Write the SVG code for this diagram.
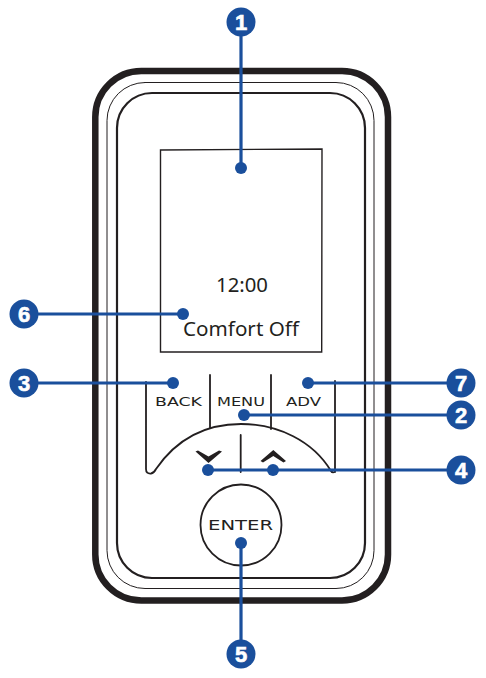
<svg xmlns="http://www.w3.org/2000/svg" width="486" height="678" viewBox="0 0 486 678">
<style>
.k{fill:none;stroke:#231f20;stroke-linecap:round}
.b{fill:#fff;stroke:#231f20}
.l{stroke:#1a4f9c;stroke-width:3.2;fill:none}
.d{fill:#1a4f9c}
.n{font-family:"Liberation Sans",Arial,sans-serif;font-weight:700;font-size:22px;fill:#fff;stroke:#fff;stroke-width:.6;text-anchor:middle}
.t{font-family:"Noto Sans","Open Sans",sans-serif;fill:#231f20;text-anchor:middle}
.w{font-family:"DejaVu Sans",sans-serif;fill:#231f20;text-anchor:middle;font-size:13px}
</style>
<rect width="486" height="678" fill="#fff"/>
<g id="device">
<rect x="95.3" y="71" width="292.7" height="529.5" rx="46" class="k" stroke-width="6.5"/>
<rect x="107" y="82.5" width="267" height="506" rx="38" class="k" stroke-width="1"/>
<rect x="117" y="93" width="248" height="485" rx="35" class="k" stroke-width="2.2"/>
</g>
<g id="screen">
<path d="M160.500 150 L322 149 L321.700 352 L160.500 352 Z" class="k" stroke-width="1.400"/>
<text x="242" y="292" class="t" font-size="20.500" textLength="52" lengthAdjust="spacingAndGlyphs">12:00</text>
<text x="241" y="336" class="t" font-size="20.500" textLength="116" lengthAdjust="spacingAndGlyphs">Comfort Off</text>
</g>
<g id="keypad">
<path d="M146 382 V469 Q146 474 151 473.500 Q154 473 156 469 C176 440 205 424 241 424 C278 424 313 441 331 471 Q332 473 335 472 V381" class="k" stroke-width="1.800"/>
<path d="M210 375 V428 M271 375 V429 M240.700 435 V472" class="k" stroke-width="1.800"/>
<path d="M195.500 451.500 L198 450.500 L208.500 456.500 L219 450.500 L222 451.500 L208.500 463 Z" fill="#231f20"/>
<path d="M260.500 461 L273.300 450 L286 461 L283.500 462.500 L273.300 456 L263 462.500 Z" fill="#231f20"/>
</g>
<g id="back"><text x="178.500" y="405.500" class="w" textLength="47" lengthAdjust="spacingAndGlyphs">BACK</text></g>
<g id="menu"><text x="241" y="405.500" class="w" textLength="48" lengthAdjust="spacingAndGlyphs">MENU</text></g>
<g id="adv"><text x="303.500" y="405.500" class="w" textLength="35" lengthAdjust="spacingAndGlyphs">ADV</text></g>
<g id="enter">
<circle cx="241" cy="525" r="40.500" class="b" stroke-width="1.800"/>
<text x="240.500" y="530" class="w" font-size="14.500" style="font-size:14.500px" textLength="65" lengthAdjust="spacingAndGlyphs">ENTER</text>
</g>
<g id="connectors">
<path d="M241 22 V168" class="l"/>
<path d="M24 314 H183" class="l"/>
<path d="M24 383 H173" class="l"/>
<path d="M308 383 H460" class="l"/>
<path d="M244 415 H460" class="l"/>
<path d="M208 470 H460" class="l"/>
<path d="M241 543 V654" class="l"/>
</g>
<g id="dots" class="d">
<circle cx="241" cy="168" r="6"/>
<circle cx="183" cy="314" r="6"/>
<circle cx="173" cy="383" r="6"/>
<circle cx="308" cy="383" r="6"/>
<circle cx="244" cy="415" r="6"/>
<circle cx="208" cy="470" r="6"/>
<circle cx="273" cy="470" r="6"/>
<circle cx="241" cy="543" r="6"/>
</g>
<g id="badge1"><circle cx="241" cy="22" r="14.500" class="d"/><text x="241" y="29.500" class="n">1</text></g>
<g id="badge6"><circle cx="24" cy="314" r="14.500" class="d"/><text x="24" y="321.500" class="n">6</text></g>
<g id="badge3"><circle cx="24" cy="383" r="14.500" class="d"/><text x="24" y="390.500" class="n">3</text></g>
<g id="badge7"><circle cx="461" cy="383" r="14.500" class="d"/><text x="461" y="390.500" class="n">7</text></g>
<g id="badge2"><circle cx="461" cy="415" r="14.500" class="d"/><text x="461" y="422.500" class="n">2</text></g>
<g id="badge4"><circle cx="461" cy="470" r="14.500" class="d"/><text x="461" y="477.500" class="n">4</text></g>
<g id="badge5"><circle cx="241" cy="654" r="14.500" class="d"/><text x="241" y="661.500" class="n">5</text></g>
</svg>
